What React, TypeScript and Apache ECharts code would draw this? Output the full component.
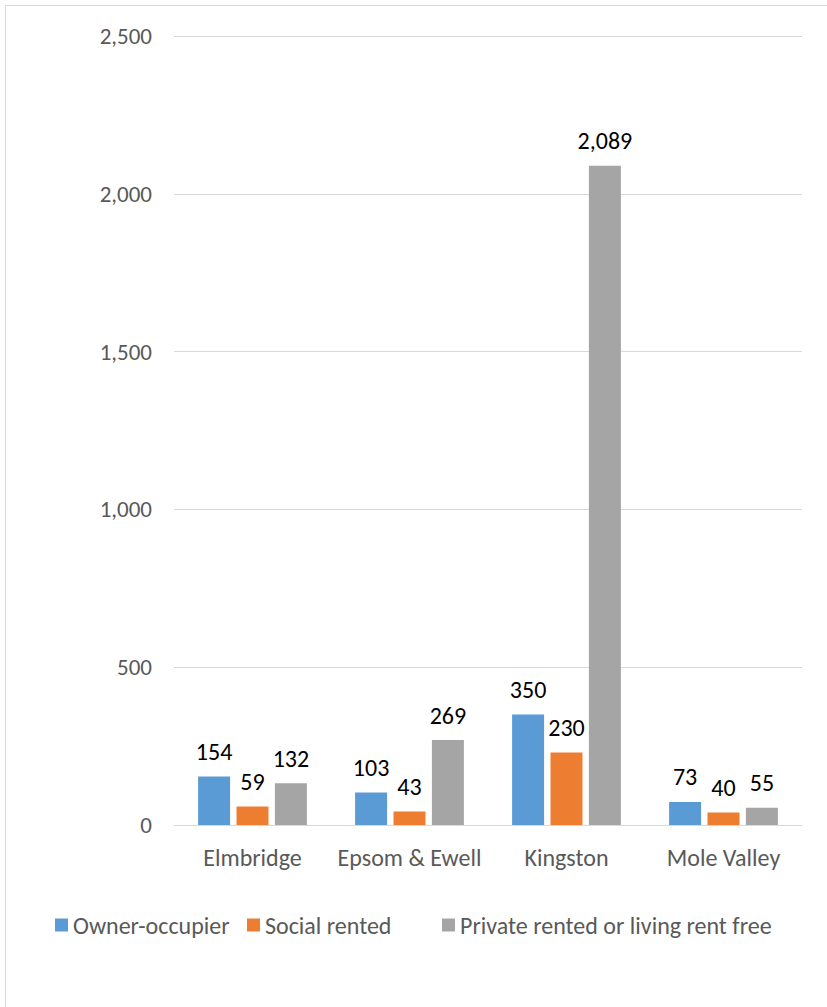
import React, { useEffect, useRef } from "react";
import * as echarts from "echarts";

const categories = ["Elmbridge", "Epsom & Ewell", "Kingston", "Mole Valley"];
const seriesNames = ["Owner-occupier", "Social rented", "Private rented or living rent free"];
const ownerOccupier = [154, 103, 350, 73];
const socialRented = [59, 43, 230, 40];
const privateRented = [132, 269, 2089, 55];
const colors = ["#5b9bd5", "#ed7d31", "#a5a5a5"];
const legendLefts = [55, 247, 442];

const FONT = "Carlito, Calibri, Lato, sans-serif";

export default function App() {
  const ref = useRef<HTMLDivElement>(null);
  useEffect(() => {
    if (!ref.current) return;
    const chart = echarts.init(ref.current, undefined, { renderer: "svg" });
    const values = [ownerOccupier, socialRented, privateRented];
    chart.setOption({
      animation: false,
      textStyle: { fontFamily: FONT },
      grid: { left: 174, right: 25, top: 36, bottom: 182, containLabel: false },
      graphic: [
        {
          type: "rect",
          shape: { x: 5.5, y: 5.5, width: 840, height: 1020 },
          style: { fill: "none", stroke: "#d9d9d9", lineWidth: 1 },
          silent: true,
        },
      ],
      legend: seriesNames.map((n, i) => ({
        data: [n],
        left: legendLefts[i],
        top: 913,
        padding: 0,
        itemWidth: 13,
        itemHeight: 13,
        icon: "rect",
        textStyle: { fontFamily: FONT, fontSize: 24, color: "#595959" },
      })),
      xAxis: {
        type: "category",
        data: categories,
        axisLine: { lineStyle: { color: "#d9d9d9" } },
        axisTick: { show: false },
        axisLabel: { color: "#595959", fontSize: 24, fontFamily: FONT, margin: 20, interval: 0 },
      },
      yAxis: {
        type: "value",
        min: 0,
        max: 2500,
        interval: 500,
        axisLine: { show: false },
        axisTick: { show: false },
        splitLine: { lineStyle: { color: "#d9d9d9" } },
        axisLabel: {
          color: "#595959",
          fontSize: 23,
          fontFamily: FONT,
          margin: 22,
          formatter: (v: number) => v.toLocaleString("en-US"),
        },
      },
      series: seriesNames.map((n, i) => ({
        name: n,
        type: "bar",
        data: values[i],
        barWidth: 32,
        barGap: "20%",
        itemStyle: { color: colors[i] },
        label: {
          show: true,
          position: "top",
          distance: 13,
          color: "#000000",
          fontSize: 24,
          fontFamily: FONT,
          formatter: (p: any) => Number(p.value).toLocaleString("en-US"),
        },
      })),
    });
    return () => chart.dispose();
  }, []);
  return (
    <div
      ref={ref}
      style={{ position: "absolute", left: 0, top: 0, width: 827, height: 1007 }}
    />
  );
}
